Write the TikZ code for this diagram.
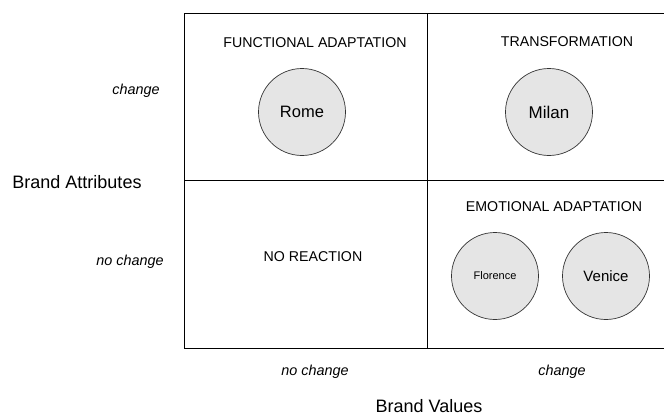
\documentclass[tikz,border=0pt]{standalone}
\usepackage{fontspec}
\setmainfont{Liberation Sans}
\begin{document}
\begin{tikzpicture}[x=1pt,y=-1pt,
  city/.style={circle,draw=black!80,line width=0.7pt,fill=black!10,minimum size=87pt,inner sep=0pt},
  lbl/.style={font=\fontsize{14.2}{16}\selectfont},
  axis/.style={font=\fontsize{14.4}{16}\selectfont\itshape},
  title/.style={font=\fontsize{18}{20}\selectfont}]
\useasboundingbox (0,0) rectangle (664,416);
\draw[line width=0.8pt] (664,13) -- (184,13) -- (184,348) -- (664,348);
\draw[line width=0.8pt] (184,180) -- (664,180);
\draw[line width=0.8pt] (427,13) -- (427,348);
\node[lbl] (fa) at (315,43) {FUNCTIONAL ADAPTATION};
\node[lbl] (tr) at (567,42) {TRANSFORMATION};
\node[lbl] (ea) at (554,207) {EMOTIONAL ADAPTATION};
\node[lbl] (nr) at (313,257) {NO REACTION};
\node[city,font=\fontsize{16.5}{18}\selectfont] (rome) at (302,112) {Rome};
\node[city,font=\fontsize{17}{19}\selectfont] (milan) at (549,112) {Milan};
\node[city,font=\fontsize{11}{13}\selectfont] (flo) at (495,276) {Florence};
\node[city,font=\fontsize{15}{17}\selectfont] (ven) at (606,276) {Venice};
\node[axis] (xnc) at (315,372) {no change};
\node[axis] (xc) at (562,372) {change};
\node[title,anchor=base,inner sep=0pt] (bv) at (429,412) {Brand Values};
\node[title] (ba) at (77,182) {Brand Attributes};
\node[axis] (yc) at (136,91) {change};
\node[axis] (ync) at (130,262) {no change};
\end{tikzpicture}
\end{document}
